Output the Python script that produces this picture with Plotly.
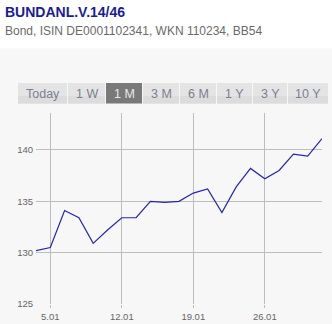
import plotly.graph_objects as go

dates = ["02.01", "05.01", "06.01", "07.01", "08.01", "09.01",
         "12.01", "13.01", "14.01", "15.01", "16.01",
         "19.01", "20.01", "21.01", "22.01", "23.01",
         "26.01", "27.01", "28.01", "29.01", "30.01"]
prices = [130.2, 130.5, 134.1, 133.4, 130.9, 132.2,
          133.4, 133.4, 135.0, 134.9, 135.0,
          135.8, 136.2, 133.9, 136.4, 138.2,
          137.2, 138.0, 139.6, 139.4, 141.1]
tick_vals = ["05.01", "12.01", "19.01", "26.01"]
tick_text = ["5.01", "12.01", "19.01", "26.01"]
y_ticks = [125, 130, 135, 140]
buttons = ["Today", "1 W", "1 M", "3 M", "6 M", "1 Y", "3 Y", "10 Y"]
selected = "1 M"

W, H = 332, 324
L, R, T, B = 36, 322, 113, 304

def px(x):
    return (x - L) / (R - L)

def py(y):
    return (B - y) / (B - T)

fig = go.Figure()
fig.add_trace(go.Scatter(x=dates, y=prices, mode="lines",
                         line=dict(color="#2424b0", width=1.2),
                         hoverinfo="x+y"))

shapes = []
annotations = []
# gray page background below header
shapes.append(dict(type="rect", xref="paper", yref="paper",
                   x0=px(0), x1=px(W), y0=py(H), y1=py(48.5),
                   fillcolor="#f7f7f7", line=dict(width=0), layer="below"))

# buttons
edges = [18, 67, 105, 142, 179, 216, 252, 287, 328]
for i, lab in enumerate(buttons):
    x0 = edges[i] + (1 if i > 0 else 0)
    x1 = edges[i + 1]
    sel = lab == selected
    fill = "#797979" if sel else "#e4e4e4"
    shapes.append(dict(type="rect", xref="paper", yref="paper",
                       x0=px(x0), x1=px(x1), y0=py(103.5), y1=py(83),
                       fillcolor=fill, line=dict(width=0), layer="below"))
    if not sel:
        shapes.append(dict(type="rect", xref="paper", yref="paper",
                           x0=px(x0), x1=px(x1), y0=py(103.5), y1=py(96),
                           fillcolor="#dcdcdc", line=dict(width=0), layer="below"))
    annotations.append(dict(text=lab, xref="paper", yref="paper",
                            x=px((x0 + x1) / 2), y=py(93.5),
                            xanchor="center", yanchor="middle", showarrow=False,
                            font=dict(family="Liberation Sans, Arial", size=12.5,
                                      color="#e8e8e8" if sel else "#7b7f93")))

annotations.append(dict(text="<b>BUNDANL.V.14/46</b>", xref="paper", yref="paper",
                        x=px(3), y=py(12), xanchor="left", yanchor="middle",
                        showarrow=False,
                        font=dict(family="Liberation Sans, Arial", size=14, color="#1c1c96")))
annotations.append(dict(text="Bond, ISIN DE0001102341, WKN 110234, BB54",
                        xref="paper", yref="paper",
                        x=px(3), y=py(31), xanchor="left", yanchor="middle",
                        showarrow=False,
                        font=dict(family="Liberation Sans, Arial", size=12, color="#6a6a6a")))

fig.update_layout(
    width=W, height=H,
    margin=dict(l=L, r=W - R, t=T, b=H - B, pad=0, autoexpand=False),
    paper_bgcolor="white",
    plot_bgcolor="rgba(0,0,0,0)",
    showlegend=False,
    shapes=shapes,
    annotations=annotations,
    font=dict(family="Liberation Sans, Arial", color="#666666"),
    xaxis=dict(type="category", range=[0, len(dates) - 1],
               tickmode="array", tickvals=tick_vals, ticktext=tick_text,
               showgrid=True, gridcolor="#bdbdbd", gridwidth=1,
               ticks="outside", ticklen=3, tickcolor="#bdbdbd",
               ticklabelstandoff=1, automargin=False,
               showline=False, zeroline=False,
               tickfont=dict(size=9.5, color="#666666"), fixedrange=True),
    yaxis=dict(range=[125, 143.6], tickmode="array", tickvals=y_ticks,
               showgrid=True, gridcolor="#bdbdbd", gridwidth=1,
               ticks="", showline=False, zeroline=False,
               ticklabelstandoff=2, automargin=False,
               tickfont=dict(size=9.5, color="#666666"), fixedrange=True),
)

fig.write_html("out.html", config={"displayModeBar": False})
